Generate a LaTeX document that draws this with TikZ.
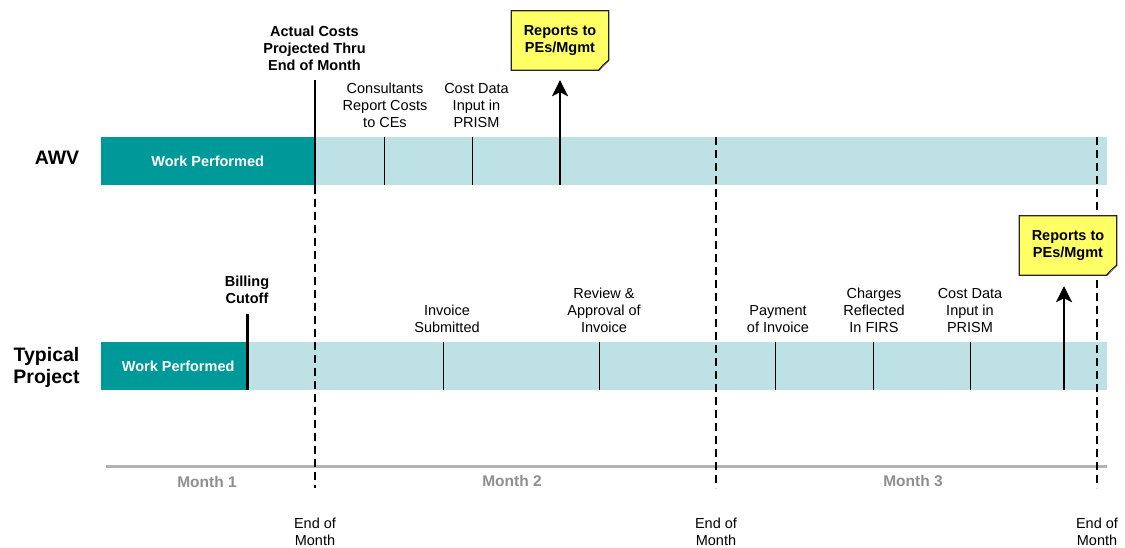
\documentclass[tikz,border=0pt]{standalone}
\usepackage{fontspec}
\setmainfont{Liberation Sans}
\usetikzlibrary{arrows.meta,calc}

\definecolor{workteal}{HTML}{009999}
\definecolor{barblue}{HTML}{BDE1E4}
\definecolor{noteyellow}{HTML}{FFFF66}
\definecolor{axisgray}{HTML}{B3B3B3}
\definecolor{monthgray}{HTML}{8F8F8F}

\begin{document}
\begin{tikzpicture}[x=1pt, y=-1pt,
    every node/.style={font=\fontsize{14.5}{17}\selectfont, inner sep=0pt},
    rowlabel/.style={font=\fontsize{19.5}{22}\selectfont\bfseries, align=center, anchor=north},
    bar/.style={fill=barblue, anchor=north west, minimum height=48pt},
    work/.style={fill=workteal, text=white, font=\fontsize{14.5}{17}\selectfont\bfseries, anchor=north west, minimum height=48pt},
    event/.style={align=center, anchor=north},
    keyevent/.style={align=center, anchor=north, font=\fontsize{14.5}{17}\selectfont\bfseries},
    tick/.style={line width=0.9pt},
    cutoff/.style={line width=2.6pt},
    monthend/.style={dash pattern=on 8pt off 5pt, line width=1.1pt},
    report/.style={-{Stealth[length=16pt,width=16pt,inset=4pt]}, line width=2.8pt},
    notebox/.style={minimum width=97pt, minimum height=59pt},
    notetext/.style={align=center, font=\fontsize{14.5}{17}\selectfont\bfseries},
    month/.style={text=monthgray, font=\fontsize{15.5}{17}\selectfont\bfseries, anchor=north}]
  \useasboundingbox (0,0) rectangle (1125,548);

  % rows
  \node[rowlabel] (awv) at (57,151) {AWV};
  \node[rowlabel] (typical) at (46.5,347) {Typical\\Project};
  \node[bar, minimum width=1006pt] (awvbar) at (101,137) {};
  \node[work, minimum width=213pt] (awvwork) at (101,137) {Work Performed};
  \node[bar, minimum width=1006pt] (typbar) at (101,342) {};
  \node[work, minimum width=146pt] (typwork) at (101,342) {\hspace{8pt}Work Performed};

  % steps inside the bars
  \foreach \x in {384,472} \draw[tick] (\x,137) -- (\x,185);
  \foreach \x in {443,599,775,873,970} \draw[tick] (\x,342) -- (\x,390);

  % month ends
  \draw[axisgray, line width=3pt] (106,466) -- (1107,466);
  \foreach \x/\top in {315/186,716/137,1097/137} \draw[monthend] (\x,\top) -- (\x,488);
  \draw[cutoff] (315,80) -- (315,186);
  \draw[cutoff] (247.5,314) -- (247.5,390);

  \node[month] (m1) at (207,476) {Month 1};
  \node[month] (m2) at (512,475) {Month 2};
  \node[month] (m3) at (913,475) {Month 3};
  \node[event] (eom1) at (315,518) {End of\\Month};
  \node[event] (eom2) at (716,518) {End of\\Month};
  \node[event] (eom3) at (1097,518) {End of\\Month};

  % AWV labels
  \node[keyevent] (actual) at (314.5,26) {Actual Costs\\Projected Thru\\End of Month};
  \node[event] (consult) at (385,83) {Consultants\\Report Costs\\to CEs};
  \node[event] (awvprism) at (476.5,83) {Cost Data\\Input in\\PRISM};

  % typical project labels
  \node[keyevent] (billing) at (247,276) {Billing\\Cutoff};
  \node[event] (invoice) at (447,305) {Invoice\\Submitted};
  \node[event] (review) at (604,288) {Review \&\\Approval of\\Invoice};
  \node[event] (payment) at (778,305) {Payment\\of Invoice};
  \node[event] (firs) at (874,288) {Charges\\Reflected\\In FIRS};
  \node[event] (typprism) at (970,288) {Cost Data\\Input in\\PRISM};

  % reports
  \node[notebox] (awvnote) at (560,40.5) {};
  \node[notebox] (typnote) at (1068,245.5) {};
  \foreach \n in {awvnote,typnote} {
    \draw[fill=noteyellow, draw=black!85, line width=1.2pt] (\n.north west) -- (\n.north east)
      -- ([yshift=10pt]\n.south east) -- ([xshift=-10pt]\n.south east) -- (\n.south west) -- cycle;
    \draw[fill=noteyellow!70!white, line width=0.7pt] ([yshift=10pt]\n.south east)
      -- ([xshift=-6pt,yshift=5pt]\n.south east) -- ([xshift=-10pt]\n.south east);
  }
  \node[notetext] (awvnotetxt) at (awvnote) {Reports to\\PEs/Mgmt};
  \node[notetext] (typnotetxt) at (typnote) {Reports to\\PEs/Mgmt};

  \coordinate (awvrep) at (560,185);
  \coordinate (typrep) at (1064,390);
  \draw[report, shorten >=10pt] (awvrep) -- (awvrep |- awvnote.south);
  \draw[report, shorten >=11pt] (typrep) -- (typrep |- typnote.south);
\end{tikzpicture}
\end{document}
